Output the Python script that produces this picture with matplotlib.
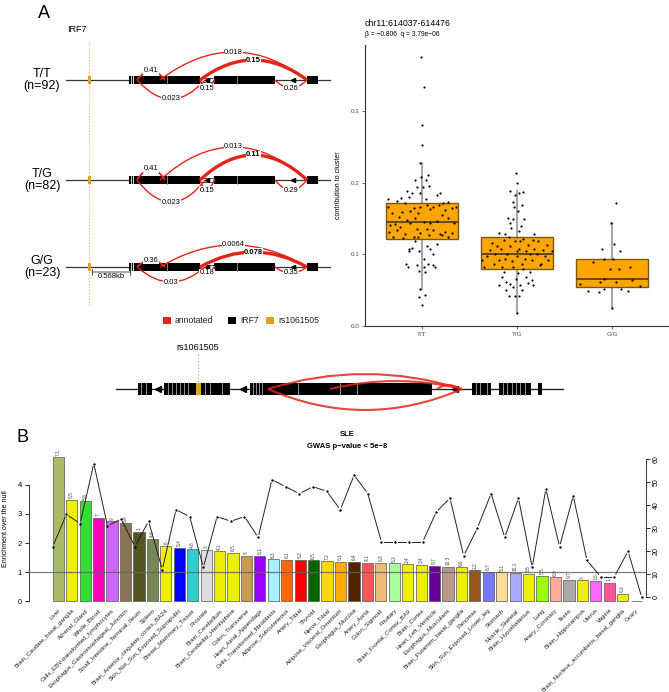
import numpy as np
import matplotlib
matplotlib.use("Agg")
import matplotlib.pyplot as plt
from matplotlib.patches import Rectangle, PathPatch
from matplotlib.path import Path

plt.rcParams['font.family'] = ['Liberation Sans', 'DejaVu Sans']

W, H = 669, 692
RED = '#E3241B'
GOLD = '#DAA520'

# ---------------- panel A: sashimi data ----------------
track_labels = ["T/T\n(n=92)", "T/G\n(n=82)", "G/G\n(n=23)"]
track_y = [80, 180, 267]
# junctions (start, end) along the locus, in drawing units
junc_start = [160, 200, 137, 200, 275, 137]
junc_end = [307, 307, 165, 214, 307, 205]
junc_bold = [False, True, False, False, False, False]
junc_lw = [1.0, 2.4, 1.3, 1.0, 1.0, 1.0]
junc_vals = [["0.018", "0.15", "0.41", "0.15", "0.26", "0.023"],
             ["0.013", "0.11", "0.41", "0.15", "0.29", "0.023"],
             ["0.0064", "0.078", "0.36", "0.18", "0.35", "0.03"]]
junc_h = [[28, 20, 9, -8, -8, -19],
          [33, 25, 11, -10, -10, -22],
          [22, 15, 7, -6, -6, -15]]
exons = [(129, 135), (135, 200), (214, 275), (307, 318)]
exon_white = [131, 133]
exon_div = [167, 237]
utr = (200, 214)
arrows = [207, 293]
snp_x = 89

# bottom gene model
gm_blocks = [(138, 152), (164, 230), (250, 432), (472, 491), (499, 531), (538, 542)]
gm_stripes = [141, 146, 168, 172, 176, 180, 184, 188, 205, 210, 222,
              253, 256, 259, 262, 298, 340, 357, 476, 480, 487,
              503, 507, 512, 516, 520, 525]
gm_arrows = [158, 243, 455]
gm_snp = 198
gm_arcs = [(268, 462, 15), (330, 462, 8), (437, 460, 4), (268, 462, -21)]

# ---------------- panel A: boxplot data ----------------
tt_jit = [-0.009, 0.019, -0.005, 0.005, -0.016, -0.012, 0.061, -0.072, 0.040, -0.054,
          0.009, 0.078, -0.155, -0.106, -0.023, 0.155, 0.190, -0.354, -0.138, 0.047,
          -0.263, 0.274, -0.22,
          -0.361, -0.176, -0.089, -0.026, 0.051, 0.120, 0.176, 0.225, 0.358, -0.211,
          -0.124, -0.047, 0.085, 0.242, 0.312, -0.159, -0.246, -0.333, -0.281, -0.124,
          0.016, 0.085, 0.155, 0.277, -0.351, -0.263, -0.176, -0.089, -0.019, 0.051,
          0.120, 0.190, 0.242, 0.312, -0.201, -0.037, 0.207, -0.316, -0.072, 0.207,
          0.337, -0.228, -0.054, 0.078, 0.277, -0.305,
          -0.134, -0.106, 0.051, 0.085, 0.120, -0.141, -0.030, 0.026, -0.166, -0.152,
          -0.054, 0.026, 0.068, 0.120, 0.138, -0.030, 0.033, -0.026, -0.030, 0.033,
          0.002, -0.072, 0.155]
tt_val = [0.375, 0.333, 0.281, 0.252, 0.227, 0.208, 0.211, 0.203, 0.203, 0.194,
          0.194, 0.195, 0.189, 0.185, 0.185, 0.183, 0.185, 0.177, 0.180, 0.177,
          0.175, 0.173, 0.179,
          0.166, 0.171, 0.164, 0.166, 0.169, 0.166, 0.169, 0.172, 0.166, 0.159,
          0.161, 0.157, 0.163, 0.162, 0.164, 0.148, 0.152, 0.141, 0.142, 0.144,
          0.145, 0.143, 0.147, 0.150, 0.131, 0.134, 0.129, 0.124, 0.130, 0.136,
          0.134, 0.129, 0.131, 0.130, 0.123, 0.124, 0.127, 0.157, 0.150, 0.155,
          0.143, 0.138, 0.136, 0.127, 0.124, 0.124,
          0.108, 0.109, 0.111, 0.108, 0.101, 0.105, 0.105, 0.093, 0.087, 0.083,
          0.085, 0.083, 0.087, 0.085, 0.083, 0.077, 0.076, 0.052, 0.040, 0.043,
          0.029, 0.118, 0.115]
tg_jit = [-0.012, 0.005, -0.072, 0.068, -0.016, 0.016, -0.044, 0.051, -0.030, 0.012,
          -0.099, -0.037, 0.078, -0.078, -0.068, 0.044, 0.019, -0.190, -0.127, 0.180,
          -0.368, -0.316, -0.281, -0.228, -0.194, -0.169, -0.141, -0.106, -0.072, -0.054,
          -0.019, -0.002, 0.026, 0.051, 0.068, 0.096, 0.120, 0.155, 0.173, 0.207,
          0.242, 0.277, 0.329, 0.364, -0.351, -0.246, -0.159, -0.089, -0.037, 0.033,
          0.138, 0.225, 0.249, 0.312, -0.263, -0.124, 0.005, 0.085, 0.180, 0.294, -0.211,
          -0.159, -0.117, -0.194, -0.072, -0.044, -0.012, 0.009, 0.033, 0.068, 0.096,
          0.120, 0.155, 0.173, -0.087, -0.026, 0.023, 0.000, -0.141, 0.138, 0.051, -0.113]
tg_val = [0.214, 0.200, 0.188, 0.187, 0.183, 0.185, 0.173, 0.169, 0.166, 0.161,
          0.150, 0.149, 0.149, 0.143, 0.137, 0.140, 0.133, 0.130, 0.129, 0.128,
          0.092, 0.097, 0.106, 0.101, 0.092, 0.108, 0.120, 0.101, 0.111, 0.090,
          0.118, 0.097, 0.108, 0.087, 0.122, 0.104, 0.113, 0.092, 0.120, 0.101,
          0.085, 0.106, 0.092, 0.104, 0.083, 0.087, 0.083, 0.124, 0.083, 0.118,
          0.101, 0.118, 0.087, 0.113, 0.116, 0.094, 0.104, 0.094, 0.108, 0.098, 0.111,
          0.069, 0.062, 0.057, 0.059, 0.055, 0.065, 0.074, 0.057, 0.079, 0.069,
          0.060, 0.064, 0.057, 0.042, 0.042, 0.042, 0.018, 0.076, 0.076, 0.050, 0.050]
gg_jit = [0.040, -0.012, 0.023, 0.089, -0.103, -0.200, 0.009, -0.082, -0.026, 0.078,
          0.190, -0.082, -0.131, 0.037, 0.207, -0.340, -0.256, -0.141, -0.089, 0.092,
          0.166, 0.298, -0.002]
gg_val = [0.171, 0.143, 0.115, 0.105, 0.107, 0.089, 0.094, 0.094, 0.080, 0.080,
          0.082, 0.066, 0.061, 0.062, 0.064, 0.059, 0.049, 0.047, 0.051, 0.052,
          0.049, 0.056, 0.025]
geno = ["T/T", "T/G", "G/G"]

# ---------------- panel B data ----------------
tissues = ["Liver", "Brain_Caudate_basal_ganglia", "Adrenal_Gland", "Whole_Blood",
           "Cells_EBV-transformed_lymphocytes", "Esophagus_Gastroesophageal_Junction",
           "Small_Intestine_Terminal_Ileum", "Spleen", "Brain_Anterior_cingulate_cortex_BA24",
           "Skin_Not_Sun_Exposed_Suprapubic", "Breast_Mammary_Tissue", "Prostate",
           "Brain_Cerebellum", "Brain_Cerebellar_Hemisphere", "Colon_Transverse",
           "Heart_Atrial_Appendage", "Cells_Transformed_fibroblasts", "Adipose_Subcutaneous",
           "Artery_Tibial", "Thyroid", "Nerve_Tibial", "Adipose_Visceral_Omentum",
           "Esophagus_Mucosa", "Artery_Aorta", "Colon_Sigmoid", "Pituitary",
           "Brain_Frontal_Cortex_BA9", "Brain_Cortex", "Heart_Left_Ventricle",
           "Esophagus_Muscularis", "Brain_Putamen_basal_ganglia", "Pancreas",
           "Skin_Sun_Exposed_Lower_leg", "Stomach", "Muscle_Skeletal", "Brain_Hypothalamus",
           "Lung", "Artery_Coronary", "Testis", "Brain_Hippocampus", "Uterus", "Vagina",
           "Brain_Nucleus_accumbens_basal_ganglia", "Ovary"]
enrichment = [4.94, 3.49, 3.43, 2.85, 2.74, 2.67, 2.37, 2.15, 1.89, 1.82, 1.78, 1.76,
              1.71, 1.66, 1.55, 1.55, 1.44, 1.41, 1.41, 1.40, 1.37, 1.35, 1.34, 1.33,
              1.31, 1.30, 1.27, 1.24, 1.22, 1.19, 1.16, 1.06, 1.00, 0.99, 0.97, 0.95,
              0.86, 0.82, 0.74, 0.72, 0.68, 0.63, 0.25, 0.0]
bar_text = ["7.1", "5.5", "5.8", "7", "9", "3.6", "1", "4.8", "6", "5.4", "4.8", "3",
            "4.1", "6.5", "5", "8.1", "6.3", "6.1", "5.2", "6.5", "7.2", "5.1", "6.4",
            "4.1", "6.3", "5.3", "2.4", "3.4", "9.7", "10.3", "6.6", "2.2", "6.7", "5.1",
            "10.1", "3.5", "5.5", "6.9", "9.7", "3", "1.6", "1.7", "6.3", ""]
n_genes = [22, 36, 32, 58, 31, 34, 22, 33, 12, 38, 35, 13, 35, 33, 35, 26, 51, 48,
           45, 48, 46, 38, 53, 45, 24, 24, 24, 24, 37, 43, 18, 30, 45, 26, 43, 13,
           47, 22, 44, 16, 9, 9, 20, 0]
bar_colors = ["#AABB66", "#EEEE00", "#33DD33", "#FF00BB", "#CC66FF", "#8B7355",
              "#555522", "#778855", "#EEEE00", "#0000FF", "#33CCCC", "#DDDDDD",
              "#EEEE00", "#EEEE00", "#CC9955", "#9900FF", "#AAEEFF", "#FF6600",
              "#FF0000", "#006600", "#FFD700", "#FFAA00", "#552200", "#FF5555",
              "#EEBB77", "#AAFF99", "#EEEE00", "#EEEE00", "#660099", "#BB9988",
              "#EEEE00", "#995522", "#7777FF", "#FFDD99", "#AAAAFF", "#EEEE00",
              "#99FF00", "#FFAA99", "#AAAAAA", "#EEEE00", "#FF66FF", "#FF5599",
              "#EEEE00", "#FFAAFF"]


def frac(x0, y0, x1, y1):
    return [x0 / W, 1 - y1 / H, (x1 - x0) / W, (y1 - y0) / H]


def arc(ax, x0, x1, y, h, lw, color=RED, alpha=1.0):
    mid = (x0 + x1) / 2
    path = Path([(x0, y), (mid, y - 2 * h), (x1, y)],
                [Path.MOVETO, Path.CURVE3, Path.CURVE3])
    ax.add_patch(PathPatch(path, fill=False, ec=color, lw=lw, alpha=alpha,
                           capstyle='butt', zorder=3))
    return mid, y - h


fig = plt.figure(figsize=(W / 100, H / 100), dpi=100)

# overlay axes in pixel units for the schematic parts
ax0 = fig.add_axes([0, 0, 1, 1])
ax0.set_xlim(0, W)
ax0.set_ylim(H, 0)
ax0.axis('off')

fig.text(38 / W, 1 - 14 / H, "A", fontsize=13, va='center', ha='left')
fig.text(16 / W, 1 - 437 / H, "B", fontsize=13, va='center', ha='left')

ax0.text(77, 30, "IRF7", fontsize=6.5, ha='center', va='center')
ax0.plot([snp_x, snp_x], [42, 305], ls=':', color='#F2B866', lw=0.8, zorder=1)

for k, y in enumerate(track_y):
    ax0.text(42, y, track_labels[k], fontsize=9, ha='center', va='center', linespacing=1.05)
    ax0.plot([66, 330], [y, y], color='#333333', lw=0.9, zorder=2)
    for (a, b) in exons:
        ax0.add_patch(Rectangle((a, y - 4), b - a, 8, fc='black', ec='none', zorder=2))
    for x in exon_white:
        ax0.plot([x, x], [y - 4, y + 4], color='white', lw=0.6, zorder=2)
    for x in exon_div:
        ax0.plot([x, x], [y - 4, y + 4], color='#999999', lw=0.6, zorder=2)
    ax0.add_patch(Rectangle((utr[0], y - 1.6), utr[1] - utr[0], 3.2, fc='white',
                            ec='#333333', lw=0.6, zorder=2))
    for x in arrows:
        ax0.plot(x, y, marker='<', ms=3, color='black', zorder=2)
    ax0.add_patch(Rectangle((snp_x - 1.5, y - 4), 3, 8, fc=GOLD, ec='none', zorder=2))
    for j in range(len(junc_start)):
        mx, my = arc(ax0, junc_start[j], junc_end[j], y, junc_h[k][j], junc_lw[j])
        ax0.text(mx, my, junc_vals[k][j], fontsize=5.5, ha='center', va='center',
                 fontweight='bold' if junc_bold[j] else 'normal', zorder=4,
                 bbox=dict(fc='white', ec='none', pad=0.2))

# 0.568kb distance mark on the last track
ax0.annotate('', xy=(snp_x, 272), xytext=(133, 272),
             arrowprops=dict(arrowstyle='|-|', lw=0.6, mutation_scale=2, color='#333333'))
ax0.text(111, 277, "0.568kb", fontsize=5.5, ha='center', va='center')

# legend
leg_items = [("annotated", RED, 163), ("IRF7", 'black', 228), ("rs1061505", GOLD, 266)]
for lab, col, x in leg_items:
    ax0.add_patch(Rectangle((x, 317), 8, 7, fc=col, ec='none'))
    ax0.text(x + 12, 320.5, lab, fontsize=6.2, ha='left', va='center', color='#222222')

# bottom gene model
gy = 389
ax0.text(gm_snp, 347, "rs1061505", fontsize=6.5, ha='center', va='center')
ax0.plot([gm_snp, gm_snp], [354, gy - 6], ls=':', color='#BBBBBB', lw=0.9)
ax0.plot([116, 563], [gy, gy], color='#222222', lw=1.0, zorder=2)
for (a, b) in gm_blocks:
    ax0.add_patch(Rectangle((a, gy - 6), b - a, 12, fc='black', ec='none', zorder=2))
for x in gm_stripes:
    ax0.plot([x, x], [gy - 6, gy + 6], color='#AAAAAA', lw=0.6, zorder=2)
ax0.add_patch(Rectangle((gm_snp - 2.5, gy - 6), 5, 12, fc=GOLD, ec='none', zorder=2))
for x in gm_arrows:
    ax0.plot(x, gy, marker='<', ms=4, color='black', zorder=2)
for (a, b, h) in gm_arcs:
    arc(ax0, a, b, gy, h, 1.5, alpha=0.85)

# ---------------- boxplot ----------------
axb = fig.add_axes(frac(365, 45, 669, 326))
bp = axb.boxplot([tt_val, tg_val, gg_val], positions=[1, 2, 3], widths=0.75,
                 patch_artist=True, showfliers=False, whis=1.5,
                 boxprops=dict(facecolor='#FFA500', edgecolor='#7A5A12', lw=1.0),
                 medianprops=dict(color='#5A4210', lw=1.3),
                 whiskerprops=dict(color='#A8A8A8', lw=1.5),
                 capprops=dict(lw=0))
for w in bp['whiskers']:
    w.set_zorder(1)
for b in bp['boxes']:
    b.set_zorder(2)
for i, (jit, val) in enumerate([(tt_jit, tt_val), (tg_jit, tg_val), (gg_jit, gg_val)]):
    axb.scatter(np.array(jit) + i + 1, val, s=2.5, c='black', zorder=4, linewidths=0)
axb.set_xlim(0.4, 3.6)
axb.set_ylim(0, 0.392)
axb.set_xticks([1, 2, 3])
axb.set_xticklabels(geno)
axb.set_yticks([0, 0.1, 0.2, 0.3])
axb.set_yticklabels(["0.0", "0.1", "0.2", "0.3"])
axb.tick_params(labelsize=4.5, labelcolor='#4d4d4d', length=2, width=0.5, color='#333333', pad=2)
for s in ['top', 'right']:
    axb.spines[s].set_visible(False)
for s in ['left', 'bottom']:
    axb.spines[s].set_color('#333333')
    axb.spines[s].set_linewidth(0.8)
axb.set_ylabel("contribution to cluster", fontsize=5, labelpad=6)
fig.text(365 / W, 1 - 24 / H, "chr11:614037-614476", fontsize=6.3, ha='left', va='center')
fig.text(365 / W, 1 - 35 / H, "β = −0.806  q = 3.79e−06", fontsize=4.8, ha='left', va='center')

# ---------------- panel B ----------------
ax = fig.add_axes(frac(29, 452, 645.7, 605))
xpos = np.arange(len(tissues))
bw = 0.833
ax.bar(xpos, enrichment, width=bw, color=bar_colors, edgecolor='#555555', lw=0.5, zorder=2)
for i in range(len(tissues)):
    if bar_text[i]:
        ax.text(xpos[i], enrichment[i] + 0.06, bar_text[i], rotation=90, fontsize=3.4,
                ha='center', va='bottom', color='#444444')
ax.axhline(1, color='#666666', lw=0.9, alpha=0.85, zorder=3)
ax.set_xlim(-2.18, 43.71)
ax.set_ylim(-0.127, 5.122)
ax.set_yticks([0, 1, 2, 3, 4])
ax.spines['left'].set_bounds(0, 4)
for s in ['top', 'right', 'bottom']:
    ax.spines[s].set_visible(False)
ax.spines['left'].set_color('#333333')
ax.spines['left'].set_linewidth(0.7)
ax.tick_params(axis='y', labelsize=5.5, length=3, width=0.6, pad=2)
ax.set_xticks(xpos)
ax.set_xticklabels(tissues, rotation=45, ha='right', rotation_mode='anchor', fontsize=4.4,
                   color='#222222')
ax.tick_params(axis='x', length=0, pad=2)
ax.set_ylabel("Enrichment over the null", fontsize=5, labelpad=6)

ax2 = ax.twinx()
ax2.set_position(frac(29, 452, 645.7, 605))
ax2.set_ylim(-3.34, 63.04)
ax2.set_yticks([0, 10, 20, 30, 40, 50, 60])
ax2.spines['right'].set_bounds(0, 60)
for s in ['top', 'left', 'bottom']:
    ax2.spines[s].set_visible(False)
ax2.spines['right'].set_color('#333333')
ax2.spines['right'].set_linewidth(0.7)
ax2.tick_params(axis='y', labelsize=5, length=3, width=0.6, pad=2)
for t in ax2.get_yticklabels():
    t.set_rotation(90)
    t.set_va('center')

# line + points, with small gaps around each point
xl = np.linspace(-bw / 2, xpos[-1] + bw / 2, len(n_genes))
pts = ax2.transData.transform(np.column_stack([xl, n_genes]))
inv = ax2.transData.inverted()
gap = 3.0
for p, q in zip(pts[:-1], pts[1:]):
    d = q - p
    L = np.hypot(*d)
    if L <= 2 * gap:
        continue
    u = d / L
    seg = inv.transform(np.array([p + u * gap, q - u * gap]))
    ax2.plot(seg[:, 0], seg[:, 1], color='#222222', lw=0.7, zorder=4)
ax2.scatter(xl, n_genes, s=3, c='black', zorder=5, linewidths=0)

fig.text(347 / W, 1 - 435 / H, "SLE", fontsize=5.5, fontweight='bold', ha='center', va='center')
fig.text(347 / W, 1 - 446 / H, "GWAS p\u2212value < 5e\u22128", fontsize=5.5, fontweight='bold',
         ha='center', va='center')

fig.savefig("out.png", dpi=100)
